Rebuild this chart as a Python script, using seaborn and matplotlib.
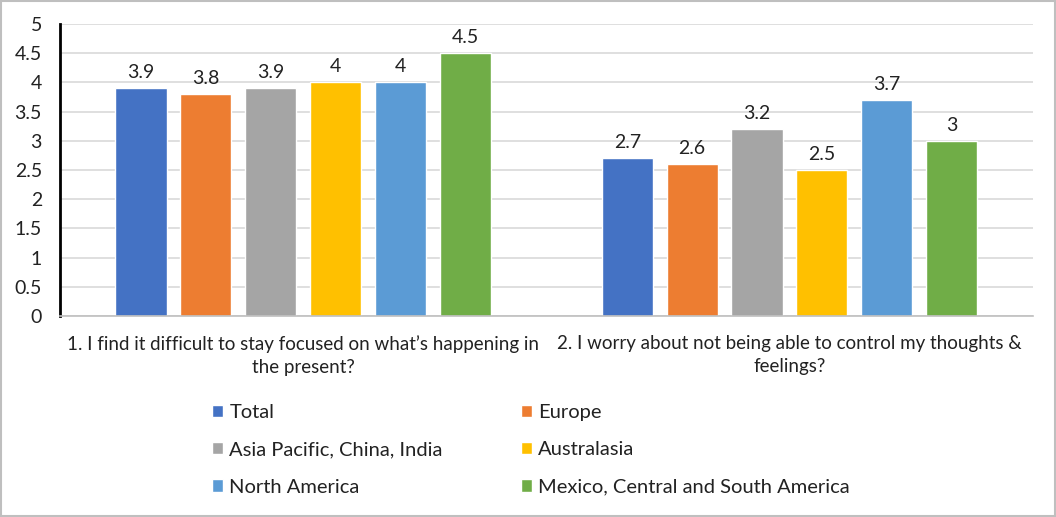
import matplotlib
matplotlib.use("Agg")
import matplotlib.pyplot as plt
import seaborn as sns
import pandas as pd
from matplotlib.patches import Rectangle

questions = ["1. I find it difficult to stay focused on what\u2019s happening in\nthe present?",
             "2. I worry about not being able to control my thoughts &\nfeelings?"]
regions = ["Total", "Europe", "Asia Pacific, China, India", "Australasia",
           "North America", "Mexico, Central and South America"]
q1_values = [3.9, 3.8, 3.9, 4, 4, 4.5]
q2_values = [2.7, 2.6, 3.2, 2.5, 3.7, 3]
colors = ["#4472C4", "#ED7D31", "#A5A5A5", "#FFC000", "#5B9BD5", "#70AD47"]

rows = []
for r, a, b in zip(regions, q1_values, q2_values):
    rows.append({"question": questions[0], "region": r, "value": a})
    rows.append({"question": questions[1], "region": r, "value": b})
df = pd.DataFrame(rows)

sns.set_theme(style="white")
plt.rcParams['font.family'] = ['Lato', 'DejaVu Sans']

fig = plt.figure(figsize=(10.56, 5.17), dpi=100)
ax = fig.add_axes([0.0568, 0.3888, 0.921, 0.5648])
sns.barplot(data=df, x="question", y="value", hue="region", order=questions,
            hue_order=regions, palette=colors, width=0.8, gap=0.21,
            saturation=1, ax=ax, legend=True, errorbar=None)

for cont in ax.containers:
    labels = [("%g" % v) for v in cont.datavalues]
    ax.bar_label(cont, labels=labels, padding=5, fontsize=14, color="#222222")

ax.set_ylim(0, 5)
ax.set_yticks([0, 0.5, 1, 1.5, 2, 2.5, 3, 3.5, 4, 4.5, 5])
ax.set_yticklabels(["0", "0.5", "1", "1.5", "2", "2.5", "3", "3.5", "4", "4.5", "5"])
ax.yaxis.grid(True, color="#D9D9D9", linewidth=1.2)
ax.set_axisbelow(True)
ax.set_xlabel("")
ax.set_ylabel("")
ax.tick_params(axis="y", labelsize=14, labelcolor="#222222", length=0, pad=13)
ax.tick_params(axis="x", labelsize=13.5, labelcolor="#222222", length=0, pad=14)
for t in ax.get_xticklabels():
    t.set_linespacing(1.4)
for side in ["top", "right"]:
    ax.spines[side].set_visible(False)
ax.spines["left"].set_color("black")
ax.spines["left"].set_linewidth(2)
ax.spines["bottom"].set_color("#BFBFBF")
ax.spines["bottom"].set_linewidth(1.2)

handles, labs = ax.get_legend_handles_labels()
ax.legend_.remove()
order = [0, 2, 4, 1, 3, 5]
fig.legend([handles[i] for i in order], [labs[i] for i in order], ncol=2,
           loc="center", bbox_to_anchor=(0.503, 0.1296), frameon=False,
           fontsize=14.5, handlelength=0.55, handleheight=0.55, handletextpad=0.3,
           columnspacing=3.9, labelspacing=1.0, labelcolor="#222222")

fig.patches.append(Rectangle((0.001, 0.001), 0.998, 0.997, transform=fig.transFigure,
                             fill=False, edgecolor="#BFBFBF", linewidth=1.5))

fig.savefig("out.png", dpi=100)
